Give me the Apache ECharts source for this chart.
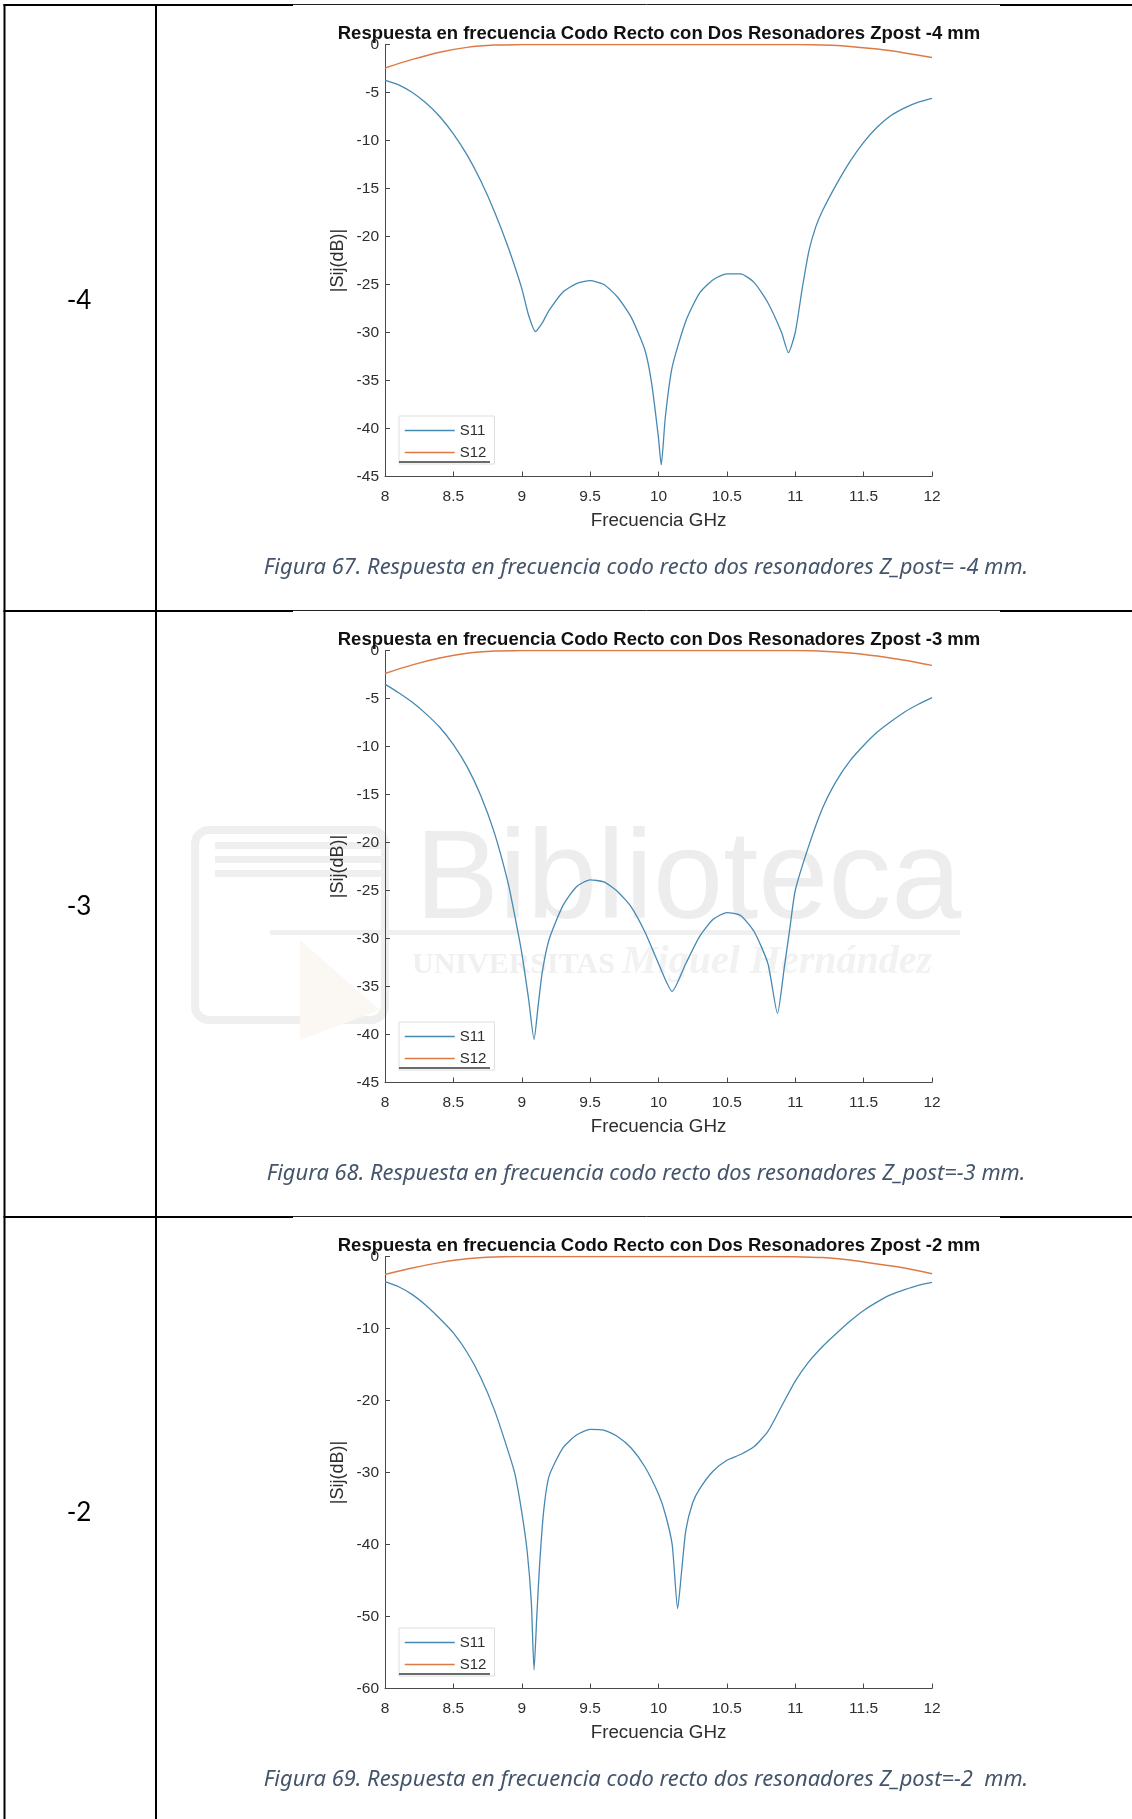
<!DOCTYPE html>
<html>
<head>
<meta charset="utf-8">
<script src="https://cdn.jsdelivr.net/npm/echarts@6/dist/echarts.min.js"></script>
<style>
html,body{margin:0;padding:0;background:#fff;}
#c{width:1132px;height:1819px;}
</style>
</head>
<body>
<div id="c"></div>
<script>
// ---------- data ----------
const rowLabels = ['-4', '-3', '-2'];
const titles = [
  'Respuesta en frecuencia Codo Recto con Dos Resonadores Zpost -4 mm',
  'Respuesta en frecuencia Codo Recto con Dos Resonadores Zpost -3 mm',
  'Respuesta en frecuencia Codo Recto con Dos Resonadores Zpost -2 mm'
];
const captions = [
  'Figura 67. Respuesta en frecuencia codo recto dos resonadores Z_post= -4 mm.',
  'Figura 68. Respuesta en frecuencia codo recto dos resonadores Z_post=-3 mm.',
  'Figura 69. Respuesta en frecuencia codo recto dos resonadores Z_post=-2  mm.'
];
const seriesNames = ['S11', 'S12'];
const xTicks = [8, 8.5, 9, 9.5, 10, 10.5, 11, 11.5, 12];
const yTicksA = [-45, -40, -35, -30, -25, -20, -15, -10, -5, 0];
const yTicksB = [-60, -50, -40, -30, -20, -10, 0];

// Zpost -4 mm
const freqS11_m4 = [8.0,8.1,8.2,8.3,8.4,8.5,8.6,8.7,8.8,8.9,9.0,9.05,9.1,9.15,9.2,9.3,9.4,9.5,9.6,9.7,9.8,9.9,9.95,10.0,10.02,10.05,10.1,10.2,10.3,10.4,10.5,10.6,10.7,10.8,10.9,10.95,11.0,11.05,11.1,11.15,11.2,11.3,11.4,11.5,11.6,11.7,11.8,11.9,12.0];
const s11_m4 = [-3.7,-4.2,-5.0,-6.1,-7.5,-9.3,-11.5,-14.2,-17.4,-21.1,-25.4,-28.2,-29.9,-29.0,-27.7,-25.8,-24.9,-24.6,-25.0,-26.3,-28.4,-31.8,-35.3,-41.0,-43.8,-38.8,-33.6,-28.8,-25.9,-24.5,-23.9,-23.9,-24.8,-26.9,-30.0,-32.1,-30.0,-25.5,-21.5,-19.0,-17.3,-14.6,-12.2,-10.2,-8.6,-7.4,-6.6,-6.0,-5.6];

// Zpost -3 mm
const freqS11_m3 = [8.0,8.1,8.2,8.3,8.4,8.5,8.6,8.7,8.8,8.9,8.95,9.0,9.05,9.09,9.12,9.15,9.2,9.3,9.4,9.5,9.6,9.7,9.8,9.9,10.0,10.1,10.2,10.3,10.4,10.5,10.6,10.7,10.8,10.87,10.92,10.96,11.0,11.1,11.2,11.3,11.4,11.5,11.6,11.7,11.8,11.9,12.0];
const s11_m3 = [-3.5,-4.4,-5.4,-6.6,-8.0,-9.8,-12.1,-15.1,-19.0,-24.2,-27.7,-31.5,-36.3,-40.5,-37.0,-33.5,-30.1,-26.6,-24.6,-23.9,-24.1,-25.1,-26.7,-29.3,-32.6,-35.5,-32.6,-29.8,-28.0,-27.3,-27.6,-29.3,-32.6,-37.8,-33.0,-29.0,-25.0,-20.3,-16.4,-13.6,-11.5,-9.9,-8.5,-7.4,-6.4,-5.6,-4.9];

// Zpost -2 mm
const freqS11_m2 = [8.0,8.1,8.2,8.3,8.4,8.5,8.6,8.7,8.8,8.9,8.95,9.0,9.04,9.07,9.09,9.11,9.13,9.16,9.2,9.3,9.4,9.5,9.6,9.7,9.8,9.9,10.0,10.05,10.1,10.14,10.17,10.2,10.25,10.3,10.4,10.5,10.6,10.7,10.8,10.9,11.0,11.1,11.2,11.3,11.4,11.5,11.6,11.7,11.8,11.9,12.0];
const s11_m2 = [-3.5,-4.2,-5.3,-6.8,-8.6,-10.6,-13.3,-16.8,-21.3,-27.0,-30.2,-35.5,-41.0,-48.0,-57.4,-50.0,-43.0,-35.4,-30.5,-26.6,-24.8,-24.0,-24.1,-25.0,-26.6,-29.2,-33.0,-35.8,-40.0,-48.9,-43.5,-38.0,-34.2,-32.3,-29.8,-28.3,-27.5,-26.4,-24.3,-20.8,-17.3,-14.6,-12.5,-10.7,-9.0,-7.5,-6.3,-5.3,-4.6,-4.0,-3.6];

// S12 (all three cases)
const freqS12 = [8.0,8.2,8.4,8.6,8.8,9.0,9.2,9.4,9.6,9.8,10.0,10.2,10.4,10.6,10.8,11.0,11.2,11.4,11.6,11.8,12.0];
const s12_m4 = [-2.45,-1.55,-0.8,-0.3,-0.06,-0.01,0,0,0,0,0,0,0,0,0,-0.01,-0.06,-0.2,-0.48,-0.88,-1.35];
const s12_m3 = [-2.4,-1.5,-0.78,-0.28,-0.05,-0.01,0,0,0,0,0,0,0,0,0,-0.01,-0.07,-0.25,-0.58,-1.02,-1.55];
const s12_m2 = [-2.5,-1.6,-0.85,-0.32,-0.07,-0.01,0,0,0,0,0,0,0,0,0,-0.02,-0.15,-0.5,-1.05,-1.6,-2.4];

// ---------- build ----------
const pairs = (xs, ys) => xs.map((x, i) => [x, ys[i]]);
const s11Sets = [pairs(freqS11_m4, s11_m4), pairs(freqS11_m3, s11_m3), pairs(freqS11_m2, s11_m2)];
const s12Sets = [pairs(freqS12, s12_m4), pairs(freqS12, s12_m3), pairs(freqS12, s12_m2)];
const yTickSets = [yTicksA, yTicksA, yTicksB];

const ROW = [5, 611, 1217];          // table row top lines
const PLOT_LEFT = 385, PLOT_W = 547, PLOT_H = 432;
const C11 = '#4689b3', C12 = '#de7a46';
const AXC = '#4a4a4a', TXC = '#2e2e2e';
const FONT = '"Liberation Sans", Arial, sans-serif';

const grids = [], xAxes = [], yAxes = [], series = [], titlesOpt = [], legends = [], graphics = [];

for (let i = 0; i < 3; i++) {
  const r = ROW[i];
  grids.push({left: PLOT_LEFT, width: PLOT_W, top: r + 39.5, height: PLOT_H, containLabel: false});
  xAxes.push({
    type: 'value', gridIndex: i,
    min: xTicks[0], max: xTicks[xTicks.length - 1], interval: xTicks[1] - xTicks[0],
    name: 'Frecuencia GHz', nameLocation: 'middle', nameGap: 35,
    nameTextStyle: {fontFamily: FONT, fontSize: 18.8, color: TXC},
    axisLine: {show: true, onZero: false, lineStyle: {color: AXC, width: 1}},
    axisTick: {show: true, inside: true, length: 5, lineStyle: {color: AXC}},
    axisLabel: {margin: 12, fontFamily: FONT, fontSize: 15.5, color: TXC},
    splitLine: {show: false}
  });
  const yt = yTickSets[i];
  yAxes.push({
    type: 'value', gridIndex: i,
    min: yt[0], max: yt[yt.length - 1], interval: yt[1] - yt[0],
    name: '|Sij(dB)|', nameLocation: 'middle', nameGap: 38, nameRotate: 90,
    nameTextStyle: {fontFamily: FONT, fontSize: 18, color: TXC},
    axisLine: {show: true, onZero: false, lineStyle: {color: AXC, width: 1}},
    axisTick: {show: true, inside: true, length: 5, lineStyle: {color: AXC}},
    axisLabel: {margin: 6, fontFamily: FONT, fontSize: 15.5, color: TXC},
    splitLine: {show: false}
  });
  series.push({
    name: seriesNames[0], type: 'line', xAxisIndex: i, yAxisIndex: i,
    data: s11Sets[i], symbol: 'none', showSymbol: false, animation: false,
    smooth: 0.2,
    lineStyle: {color: C11, width: 1.3}, itemStyle: {color: C11}, z: 3
  });
  series.push({
    name: seriesNames[1], type: 'line', xAxisIndex: i, yAxisIndex: i,
    data: s12Sets[i], symbol: 'none', showSymbol: false, animation: false,
    smooth: 0.3,
    lineStyle: {color: C12, width: 1.5}, itemStyle: {color: C12}, z: 4
  });
  titlesOpt.push({
    text: titles[i], left: 659, top: r + 19.3, textAlign: 'center', padding: 0,
    textStyle: {fontFamily: FONT, fontWeight: 'bold', fontSize: 18.5, color: '#111'}
  });
  legends.push({
    data: seriesNames, orient: 'vertical', left: 399, top: r + 411,
    padding: [7, 8, 4, 5], itemWidth: 50, itemHeight: 14, itemGap: 7,
    backgroundColor: '#fff', borderColor: '#dedede', borderWidth: 1, borderRadius: 0,
    itemStyle: {opacity: 0, borderWidth: 0},
    lineStyle: {width: 1.5},
    textStyle: {fontFamily: FONT, fontSize: 15, color: TXC},
    selectedMode: false
  });
  // dark bottom edge of legend box
  graphics.push({type: 'line', z: 50, shape: {x1: 399, y1: r + 457, x2: 490, y2: r + 457},
    style: {stroke: '#3a3a3a', lineWidth: 1.5}});
  // caption
  graphics.push({type: 'text', x: 646, y: r + 563, z: 50,
    style: {text: captions[i], font: 'italic 21.9px "Noto Sans", Lato, sans-serif', fill: '#44546A',
      align: 'center', verticalAlign: 'middle', textAlign: 'center', textVerticalAlign: 'middle'}});
  // row label
  graphics.push({type: 'text', x: 79, y: r + 296, z: 50,
    style: {text: rowLabels[i], font: '26px Lato, "Noto Sans", sans-serif', fill: '#000',
      align: 'center', verticalAlign: 'middle', textAlign: 'center', textVerticalAlign: 'middle'}});
}

// table lines
const LINE = '#000';
for (let i = 0; i < 3; i++) {
  const y = ROW[i];
  graphics.push({type: 'line', z: 60, shape: {x1: 3.5, y1: y, x2: 293, y2: y}, style: {stroke: LINE, lineWidth: 2}});
  graphics.push({type: 'line', z: 60, shape: {x1: 293, y1: y - 0.5, x2: 1000, y2: y - 0.5}, style: {stroke: '#222', lineWidth: 1}});
  graphics.push({type: 'line', z: 60, shape: {x1: 1000, y1: y, x2: 1132, y2: y}, style: {stroke: LINE, lineWidth: 2}});
}
graphics.push({type: 'line', z: 60, shape: {x1: 4.5, y1: 4, x2: 4.5, y2: 1819}, style: {stroke: LINE, lineWidth: 2}});
graphics.push({type: 'line', z: 60, shape: {x1: 156, y1: 4, x2: 156, y2: 1819}, style: {stroke: LINE, lineWidth: 2}});

// faint library watermark behind the second plot
const WM = '#ededed';
graphics.push({type: 'text', x: 415, y: 820, z: -10, silent: true,
  style: {text: 'Biblioteca', font: '126px "Liberation Sans", Arial, sans-serif', fill: WM,
    align: 'left', verticalAlign: 'top', textAlign: 'left', textVerticalAlign: 'top'}});
graphics.push({type: 'text', x: 412, y: 965, z: -10, silent: true,
  style: {text: 'UNIVERSITAS', font: 'bold 30px "Liberation Serif", serif', fill: '#f0f0f0',
    align: 'left', verticalAlign: 'middle', textAlign: 'left', textVerticalAlign: 'middle'}});
graphics.push({type: 'text', x: 622, y: 963, z: -10, silent: true,
  style: {text: 'Miguel Hernández', font: 'italic bold 40px "Liberation Serif", serif', fill: '#f2f2f2',
    align: 'left', verticalAlign: 'middle', textAlign: 'left', textVerticalAlign: 'middle'}});
graphics.push({type: 'rect', z: -10, silent: true, shape: {x: 270, y: 930, width: 690, height: 5},
  style: {fill: '#f0f0f0'}});
graphics.push({type: 'rect', z: -10, silent: true, shape: {x: 195, y: 830, width: 190, height: 190, r: 14},
  style: {fill: 'none', stroke: '#efefef', lineWidth: 8}});
graphics.push({type: 'rect', z: -10, silent: true, shape: {x: 215, y: 842, width: 170, height: 7}, style: {fill: '#efefef'}});
graphics.push({type: 'rect', z: -10, silent: true, shape: {x: 215, y: 856, width: 170, height: 7}, style: {fill: '#efefef'}});
graphics.push({type: 'rect', z: -10, silent: true, shape: {x: 215, y: 870, width: 170, height: 7}, style: {fill: '#efefef'}});
graphics.push({type: 'polygon', z: -10, silent: true, shape: {points: [[300, 940], [380, 1010], [300, 1040]]},
  style: {fill: '#fbf8f3'}});

const chart = echarts.init(document.getElementById('c'), null, {renderer: 'canvas'});
chart.setOption({
  backgroundColor: '#fff',
  animation: false,
  title: titlesOpt,
  legend: legends,
  grid: grids,
  xAxis: xAxes,
  yAxis: yAxes,
  series: series,
  graphic: graphics
});
</script>
</body>
</html>
